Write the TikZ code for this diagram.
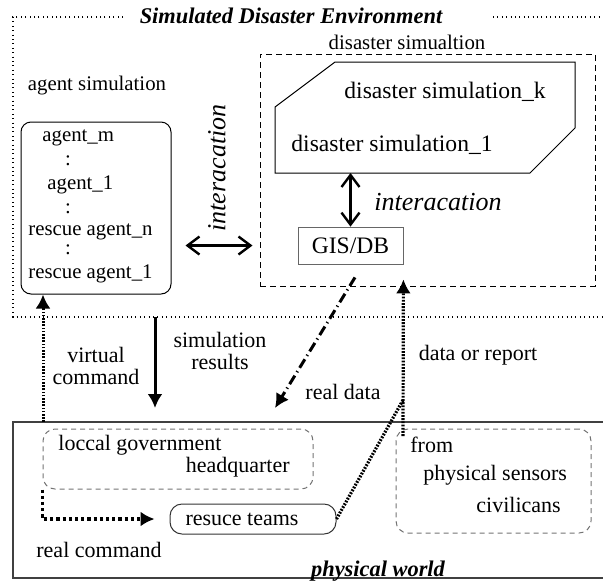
\documentclass[tikz,border=0pt]{standalone}
\usepackage{fontspec}
\setmainfont{Liberation Serif}
\usetikzlibrary{calc}
\usetikzlibrary{positioning}
\usetikzlibrary{arrows.meta}

\tikzset{
  lbl/.style={inner sep=0pt, font=\fontsize{11}{11}\selectfont},
  sml/.style={inner sep=0pt, font=\fontsize{10.4}{11}\selectfont},
  big/.style={inner sep=0pt, font=\fontsize{11.8}{12}\selectfont},
  ital/.style={inner sep=0pt, font=\fontsize{13}{13}\selectfont\itshape},
  ttl/.style={inner sep=0pt, font=\fontsize{11.2}{12}\selectfont\bfseries\itshape},
  graybox/.style={draw=black!55, dash pattern=on 2.5pt off 2pt, rounded corners=6pt, line width=0.5pt},
  tip/.style={-{Latex[length=7pt,width=7.5pt]}},
  inter/.style={{Straight Barb[length=6pt,width=9pt]}-{Straight Barb[length=6pt,width=9pt]}, line width=1.2pt},
  rep/.style={line width=1.6pt, dash pattern=on 0.9pt off 0.7pt},
}

\begin{document}
\begin{tikzpicture}[x=0.5pt, y=-0.5pt]
\useasboundingbox (0,0) rectangle (603,584);

\draw[dash pattern=on 0.5pt off 1.7pt, line width=0.6pt] (123,17) -- (13,17) -- (13,317) -- (604,317);
\draw[dash pattern=on 0.5pt off 1.7pt, line width=0.6pt] (493,17) -- (604,17);
\node[ttl] (env) at (291,16) {Simulated Disaster Environment};
\draw[black!75, line width=0.6pt] (604,422) -- (13,422) -- (13,578) -- (604,578);
\node[ttl] (world) at (378,571) {physical world};

\node[draw, rounded corners=5pt, minimum width=75pt, minimum height=86pt, line width=0.5pt] (agents) at (96,208) {};
\node[sml] (asim) at (97,86) {agent simulation};
\node[sml, anchor=west] (am) at (42,138) {agent\_m};
\node[sml] (c1) at (68,161) {:};
\node[sml, anchor=west] (a1) at (47,185) {agent\_1};
\node[sml] (c2) at (68,209) {:};
\node[sml, anchor=west] (rn) at (28,232) {rescue agent\_n};
\node[sml] (c3) at (68,250) {:};
\node[sml, anchor=west] (r1) at (28,274) {rescue agent\_1};

\node[sml] (dlab) at (407,42) {disaster simualtion};
\node[draw, dash pattern=on 3pt off 2pt, minimum width=167.5pt, minimum height=116pt, line width=0.5pt] (dsim) at (427.5,170) {};
\node[minimum width=150pt, minimum height=55.5pt, outer sep=0pt] (dbox) at (425,117.5) {};
\draw[line width=0.5pt] (dbox.south west) -- ($(dbox.north west)+(0,45)$) -- ($(dbox.north west)+(60,0)$) -- (dbox.north east) -- ($(dbox.north east)+(0,66)$) -- ($(dbox.south east)+(-45,0)$) -- cycle;
\node[big] (dk) at (445,92) {disaster simulation\_k};
\node[big] (d1) at (392,145) {disaster simulation\_1};
\node[big, draw=black!60, minimum width=52.5pt, minimum height=18.5pt] (gis) at (350.5,245.5) {GIS/DB};

\draw[inter] (dbox.south -| gis) -- (gis.north);
\node[ital] (int1) at (438,202) {interacation};
\draw[inter] ($(agents.east |- gis)+(14,0)$) -- ($(dsim.west |- gis)+(-7,0)$);
\node[ital, rotate=90] (int2) at (217,168) {interacation};

\node[graybox, minimum width=135pt, minimum height=30pt] (hq) at (178,459) {};
\node[lbl, anchor=west] (hq1) at (58,445) {loccal government};
\node[lbl, anchor=east] (hq2) at (290,467) {headquarter};
\node[graybox, minimum width=97.5pt, minimum height=52pt] (src) at (493.5,481) {};
\node[lbl, anchor=west] (s1) at (410,445) {from};
\node[lbl, anchor=west] (s2) at (423,475) {physical sensors};
\node[lbl, anchor=west] (s3) at (476,505) {civilicans};
\node[lbl, draw=black!80, rounded corners=6pt, minimum width=83pt, minimum height=15pt, line width=0.5pt] (teams) at (253,519) {resuce teams\hspace*{11pt}};

\coordinate (vc) at (43,422);
\draw[tip, line width=1.5pt, dash pattern=on 0.8pt off 0.8pt] (vc) -- (vc |- agents.south);
\node[lbl, align=center] (vlab) at (96,366) {virtual\\command};

\coordinate (sr) at (155,317);
\coordinate (sre) at (155,408);
\draw[tip, line width=1.5pt] (sr) -- (sre);
\node[lbl, align=center] (slab) at (220,351) {simulation\\results};

\coordinate (rds) at ($(gis.south)+(4.5,13)$);
\coordinate (rde) at (275,408);
\draw[tip, line width=1.5pt, dash pattern=on 5pt off 2pt on 0.6pt off 2pt] (rds) -- (rde);
\node[lbl] (rdlab) at (343,392) {real data};

\coordinate (rj) at (403,400);
\coordinate (rb) at (403,436);
\coordinate (rt) at ($(gis.south east)+(0,15)$);
\draw[rep] (teams.east) -- (rj);
\draw[rep, tip] (rb) -- (rt);
\node[lbl] (rplab) at (478,355) {data or report};

\draw[tip, line width=1.6pt, dash pattern=on 1.6pt off 1.5pt, shorten >=7.5pt] (hq.south west) -- (hq.south west |- teams) -- (teams.west);
\node[lbl] (rclab) at (99,550) {real command};
\end{tikzpicture}
\end{document}
